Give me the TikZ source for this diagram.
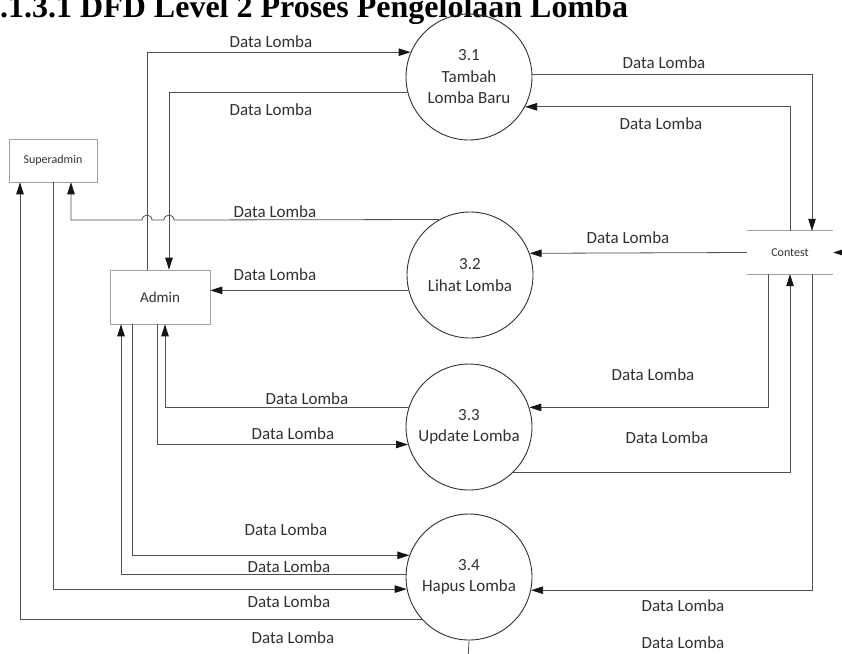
\documentclass[tikz,border=0pt]{standalone}
\usepackage{fontspec}
\setmainfont{Carlito}
\newfontfamily\headfont{Liberation Serif}
\usetikzlibrary{arrows.meta,calc}
\definecolor{linegray}{HTML}{505050}
\definecolor{circlegray}{HTML}{303030}
\definecolor{boxgray}{HTML}{A0A0A0}
\definecolor{textgray}{HTML}{303030}
\definecolor{tipblack}{HTML}{151515}

\begin{document}
\begin{tikzpicture}[x=1pt,y=-1pt,
  flow/.style={draw=linegray, line width=0.8pt,
    -{Triangle[length=12pt,width=7.5pt,color=tipblack]}},
  plain/.style={draw=linegray, line width=0.8pt},
  storeline/.style={draw=boxgray, line width=0.8pt},
  process/.style={circle, draw=circlegray, line width=0.9pt, minimum size=126pt,
    inner sep=0pt, align=center, font=\fontsize{17}{21.5}\selectfont, text=textgray},
  entity/.style={rectangle, draw=boxgray, line width=0.7pt, inner sep=0pt, text=textgray},
  lbl/.style={font=\fontsize{17}{20}\selectfont, text=textgray, inner sep=0pt},
]
\useasboundingbox (0,0) rectangle (842,653);
\clip (0,0) rectangle (842,653);

% heading
\node[anchor=base west, inner sep=0pt, text=black,
      font=\headfont\bfseries\fontsize{32}{36}\selectfont] (title) at (0,17)
      {.1.3.1 DFD Level 2 Proses Pengelolaan Lomba};

% external entities and data store
\node[entity, minimum width=88pt, minimum height=43pt, font=\fontsize{12}{14}\selectfont]
  (sa) at (53,160.5) {Superadmin};
\node[entity, minimum width=100pt, minimum height=54pt, font=\fontsize{15}{18}\selectfont]
  (admin) at (160,297) {Admin};
\node[inner sep=0pt, minimum width=86pt, minimum height=43pt, text=textgray,
      font=\fontsize{12}{14}\selectfont] (contest) at (790,252.5) {Contest};
\draw[storeline] (contest.north west) -- (contest.north east)
                 (contest.south west) -- (contest.south east);

% processes
\node[process] (p31) at (469,77)  {3.1\\Tambah\\Lomba Baru};
\node[process] (p32) at (470,275) {3.2\\Lihat Lomba};
\node[process] (p33) at (469,427) {3.3\\Update Lomba};
\node[process] (p34) at (469,577) {3.4\\Hapus Lomba};

% helper points
\coordinate (saIn) at ([xshift=18pt]sa.south);
\coordinate (outBottom) at (468,660);
\coordinate (extIn) at (860,252.5);

% 3.1 flows
\draw[flow] ([xshift=-13pt]admin.north) |- (p31.157);
\draw[flow] (p31.194) -| ([xshift=9pt]admin.north);
\draw[flow] (p31.2) -| ([xshift=22pt]contest.north);
\draw[flow] (contest.north) |- (p31.332);

% 3.2 flows (with line jumps over the two Admin verticals)
\draw[flow] (p32.119) -- (174,220) .. controls (174,213.5) and (164,213.5) .. (164,220)
  -- (152,220) .. controls (152,213.5) and (142,213.5) .. (142,220) -| (saIn);
\draw[flow] (contest.west) -- (p32.20);
\draw[flow] (p32.194) -- (p32.194 -| admin.east);

% 3.3 flows
\draw[flow] (p33.162) -| ([xshift=5pt]admin.south);
\draw[flow] ([xshift=-3pt]admin.south) |- (p33.196);
\draw[flow] ([xshift=-22pt]contest.south) |- (p33.18);
\draw[flow] (p33.314) -| (contest.south);

% 3.4 flows
\draw[flow] ([xshift=-28pt]admin.south) |- (p34.160);
\draw[flow] (p34.178) -| ([xshift=-39pt]admin.south);
\draw[flow] (sa.south) |- (p34.191);
\draw[flow] (p34.222) -| ([xshift=-33pt]sa.south);
\draw[flow] ([xshift=22pt]contest.south) |- (p34.348);
\draw[plain] (p34.south) -- (outBottom);

% incoming flow on the store's right side
\draw[flow] (extIn) -- (contest.east);

% flow labels
\node[lbl] (l1)  at (271,42)  {Data Lomba};
\node[lbl] (l2)  at (271,110) {Data Lomba};
\node[lbl] (l3)  at (664,63)  {Data Lomba};
\node[lbl] (l4)  at (661,124) {Data Lomba};
\node[lbl] (l5)  at (275,212) {Data Lomba};
\node[lbl] (l6)  at (628,238) {Data Lomba};
\node[lbl] (l7)  at (275,275) {Data Lomba};
\node[lbl] (l8)  at (307,399) {Data Lomba};
\node[lbl] (l9)  at (293,434) {Data Lomba};
\node[lbl] (l10) at (653,375) {Data Lomba};
\node[lbl] (l11) at (667,438) {Data Lomba};
\node[lbl] (l12) at (286,530) {Data Lomba};
\node[lbl] (l13) at (289,567) {Data Lomba};
\node[lbl] (l14) at (289,602) {Data Lomba};
\node[lbl] (l15) at (293,638) {Data Lomba};
\node[lbl] (l16) at (683,606) {Data Lomba};
\node[lbl] (l17) at (683,643) {Data Lomba};
\end{tikzpicture}
\end{document}
